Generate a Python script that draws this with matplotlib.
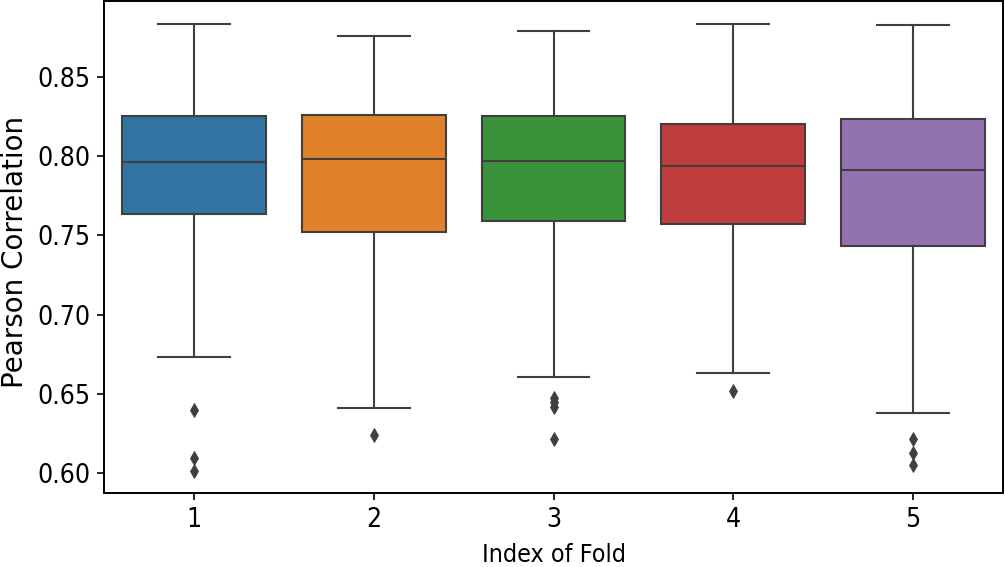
import matplotlib
matplotlib.use('Agg')
import matplotlib.pyplot as plt

# box summary per fold
folds = ['1', '2', '3', '4', '5']
whislo = [0.673, 0.641, 0.661, 0.663, 0.638]
q1 = [0.7635, 0.752, 0.759, 0.757, 0.743]
med = [0.796, 0.798, 0.797, 0.794, 0.791]
q3 = [0.825, 0.826, 0.825, 0.820, 0.823]
whishi = [0.883, 0.8755, 0.879, 0.8835, 0.8825]
fliers = [[0.640, 0.6095, 0.6015],
          [0.624],
          [0.6475, 0.645, 0.642, 0.6215],
          [0.652],
          [0.6215, 0.6125, 0.605]]

colors = ['#3274a1', '#e1812c', '#3a923a', '#c03d3e', '#9372b2']
gray = '#3f3f3f'

stats = []
for i in range(len(folds)):
    stats.append(dict(label=folds[i], whislo=whislo[i], q1=q1[i], med=med[i],
                      q3=q3[i], whishi=whishi[i], fliers=fliers[i]))

fig = plt.figure(figsize=(10.05, 5.67), dpi=100)
ax = fig.add_axes([0.1038, 0.130, 0.894, 0.868])

bp = ax.bxp(stats, positions=range(len(folds)), widths=0.8, capwidths=0.4,
            patch_artist=True,
            boxprops=dict(edgecolor=gray, linewidth=1.5),
            whiskerprops=dict(color=gray, linewidth=1.5),
            capprops=dict(color=gray, linewidth=1.5),
            medianprops=dict(color=gray, linewidth=1.5),
            flierprops=dict(marker='d', markersize=7, markeredgewidth=0.6,
                            markerfacecolor=gray, markeredgecolor=gray,
                            linestyle='none'))
for patch, c in zip(bp['boxes'], colors):
    patch.set_facecolor(c)

ax.set_xlim(-0.5, len(folds) - 0.5)

for sp in ax.spines.values():
    sp.set_linewidth(1.4)
    sp.set_color('black')
ax.tick_params(axis='both', labelsize=19, length=5, width=1.2)
ax.tick_params(axis='x', pad=5)
ax.tick_params(axis='y', pad=5)
for lab in ax.get_xticklabels() + ax.get_yticklabels():
    lab.set_fontstretch('condensed')

ax.set_xlabel('Index of Fold', fontsize=18, fontstretch='condensed')
ax.set_ylabel('Pearson Correlation', fontsize=20)
ax.xaxis.set_label_coords(0.5, -0.101)
ax.yaxis.set_label_coords(-0.084, 0.49)

fig.savefig('out.png', dpi=100)
